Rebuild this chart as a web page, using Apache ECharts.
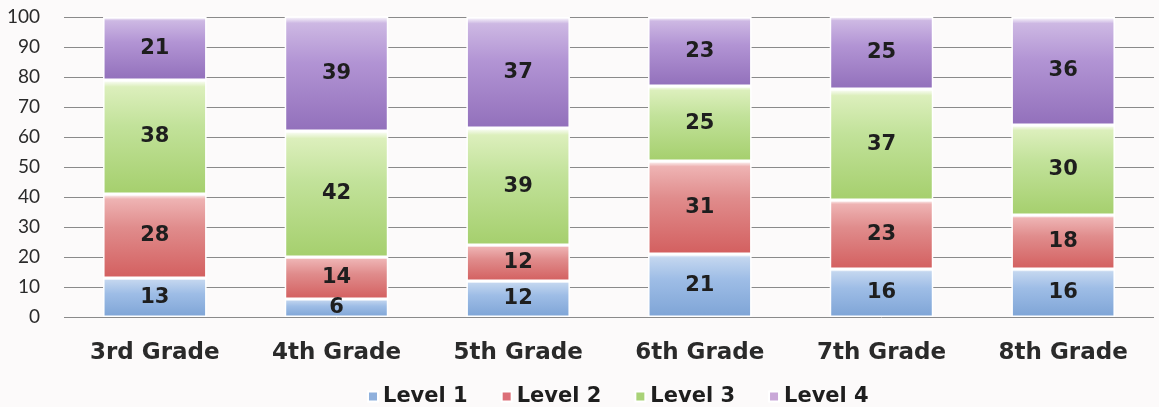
<!DOCTYPE html>
<html>
<head>
<meta charset="utf-8">
<script src="https://cdn.jsdelivr.net/npm/echarts@6/dist/echarts.min.js"></script>
<style>
  html, body { margin: 0; padding: 0; background: #fcfafa; }
  #chartmain { width: 1159px; height: 407px; }
</style>
</head>
<body>
<div id="chartmain"></div>
<script>
// grades and levels
var grades = ['3rd Grade', '4th Grade', '5th Grade', '6th Grade', '7th Grade', '8th Grade'];
var level1 = [13, 6, 12, 21, 16, 16];
var level2 = [28, 14, 12, 31, 23, 18];
var level3 = [38, 42, 39, 25, 37, 30];
var level4 = [21, 39, 37, 23, 25, 36];
var yTicks = [0, 10, 20, 30, 40, 50, 60, 70, 80, 90, 100];

function gloss(top, mid, bottom) {
  return new echarts.graphic.LinearGradient(0, 0, 0, 1, [
    { offset: 0, color: '#ffffff' },
    { offset: 0.06, color: top },
    { offset: 0.4, color: mid },
    { offset: 1, color: bottom }
  ]);
}

function mkSeries(name, data, color) {
  return {
    name: name,
    type: 'bar',
    stack: 'all',
    barWidth: '57%',
    data: data,
    itemStyle: { color: color, borderColor: '#ffffff', borderWidth: 1.5 },
    label: {
      show: true,
      position: 'inside',
      color: '#1e1e1e',
      fontSize: 21,
      fontWeight: 'bold',
      fontFamily: 'DejaVu Sans'
    }
  };
}

var chart = echarts.init(document.getElementById('chartmain'));
chart.setOption({
  backgroundColor: '#fcfafa',
  animation: false,
  grid: { left: 64, right: 5, top: 17, bottom: 90 },
  legend: {
    top: 381,
    left: 362,
    itemWidth: 10,
    itemHeight: 10,
    itemGap: 33,
    icon: 'rect',
    textStyle: { fontSize: 21, fontWeight: 'bold', color: '#1e1e1e', fontFamily: 'DejaVu Sans' },
    data: [
      { name: 'Level 1', itemStyle: { color: '#8fb0dc' } },
      { name: 'Level 2', itemStyle: { color: '#dc6f78' } },
      { name: 'Level 3', itemStyle: { color: '#a9d277' } },
      { name: 'Level 4', itemStyle: { color: '#c9a8d8' } }
    ]
  },
  xAxis: {
    type: 'category',
    data: grades,
    axisLine: { show: false },
    axisTick: { show: false },
    axisLabel: { margin: 25, fontSize: 23, fontWeight: 'bold', color: '#2a2a2a', fontFamily: 'DejaVu Sans' }
  },
  yAxis: {
    type: 'value',
    min: yTicks[0],
    max: yTicks[yTicks.length - 1],
    interval: 10,
    axisLine: { show: false },
    axisTick: { show: false },
    splitLine: { lineStyle: { color: '#8a8a8a', width: 1 } },
    axisLabel: { margin: 24, fontSize: 19, color: '#2a2a2a', fontFamily: 'Lato' }
  },
  series: [
    mkSeries('Level 1', level1, gloss('#c3d6ef', '#9ebde6', '#7ea4d6')),
    mkSeries('Level 2', level2, gloss('#eeb3b3', '#e08c8c', '#d35f5f')),
    mkSeries('Level 3', level3, gloss('#dcefbc', '#c2e29a', '#a5cf6d')),
    mkSeries('Level 4', level4, gloss('#cdb8e3', '#b294d4', '#9270bb'))
  ]
});
</script>
</body>
</html>
